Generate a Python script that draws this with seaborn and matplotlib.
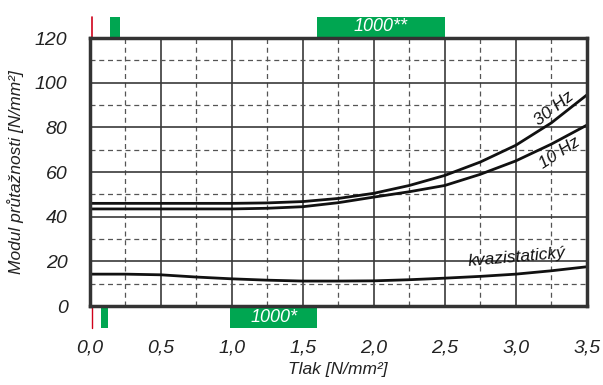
import numpy as np
import pandas as pd
import seaborn as sns
import matplotlib.pyplot as plt
from matplotlib.ticker import MultipleLocator, FixedLocator

# -------------------------
# 1. Data
# -------------------------
tlak = [0.0, 0.25, 0.5, 0.75, 1.0, 1.25, 1.5, 1.75, 2.0, 2.25, 2.5, 2.75, 3.0, 3.25, 3.5]
modul_30hz = [46, 46, 46, 46, 46, 46.2, 46.8, 48.2, 50.5, 54, 58.5, 64.5, 72, 82, 94.5]
modul_10hz = [43.5, 43.5, 43.5, 43.5, 43.5, 43.8, 44.5, 46.3, 48.8, 51.2, 54, 59, 65, 72.5, 81]
modul_kvazi = [14.3, 14.3, 14, 13, 12.2, 11.6, 11.2, 11.2, 11.3, 11.8, 12.5, 13.3, 14.3, 15.8, 17.6]

series_names = ["30 Hz", "10 Hz", "kvazistatický"]

x_ticks = [0.0, 0.5, 1.0, 1.5, 2.0, 2.5, 3.0, 3.5]
x_tick_labels = ["0,0", "0,5", "1,0", "1,5", "2,0", "2,5", "3,0", "3,5"]
y_ticks = [0, 20, 40, 60, 80, 100, 120]

# marker bands above / below the plot: (start, end, label)
top_bands = [(0.14, 0.21, ""), (1.6, 2.5, "1000**")]
bottom_bands = [(0.08, 0.13, ""), (0.99, 1.6, "1000*")]
red_marker_x = 0.012

df = pd.DataFrame({
    "Tlak": tlak * 3,
    "Modul": modul_30hz + modul_10hz + modul_kvazi,
    "Serie": [series_names[0]] * len(tlak) + [series_names[1]] * len(tlak) + [series_names[2]] * len(tlak),
})

# -------------------------
# 2. Figure
# -------------------------
sns.set_style("white")
plt.rcParams["font.family"] = ["Liberation Sans", "DejaVu Sans"]

fig = plt.figure(figsize=(6.03, 3.85), dpi=100)
ax = fig.add_axes([0.149, 0.205, 0.824, 0.696])

# grid
ax.set_xlim(0, 3.5)
ax.set_ylim(0, 120)
ax.xaxis.set_major_locator(FixedLocator(x_ticks))
ax.xaxis.set_minor_locator(MultipleLocator(0.25))
ax.yaxis.set_major_locator(FixedLocator(y_ticks))
ax.yaxis.set_minor_locator(MultipleLocator(10))
ax.grid(which="major", color="#3a3a3a", linewidth=1.2, linestyle="-")
ax.grid(which="minor", color="#555555", linewidth=0.9, linestyle=(0, (4, 3)))
ax.set_axisbelow(True)

sns.lineplot(data=df, x="Tlak", y="Modul", hue="Serie",
             palette={n: "#111111" for n in series_names},
             linewidth=2.0, legend=False, ax=ax)

for s in ax.spines.values():
    s.set_linewidth(2.5)
    s.set_color("#333333")

# tick labels
ax.set_xticklabels(x_tick_labels)
ax.tick_params(axis="x", which="both", length=0, pad=24, labelsize=14)
ax.tick_params(axis="y", which="both", length=0, pad=16, labelsize=14)
for lab in ax.get_xticklabels() + ax.get_yticklabels():
    lab.set_style("italic")
    lab.set_color("#222222")

ax.set_xlabel("Tlak [N/mm²]", fontsize=12.5, style="italic", color="#222222", labelpad=4)
ax.set_ylabel("Modul průtažnosti [N/mm²]", fontsize=12.5, style="italic", color="#222222", labelpad=8)

# curve labels
ax.text(3.27, 88.5, "30 Hz", rotation=38, ha="center", va="center", fontsize=12.5, color="#111111", style="italic")
ax.text(3.31, 68.5, "10 Hz", rotation=33, ha="center", va="center", fontsize=12.5, color="#111111", style="italic")
ax.text(3.01, 22, "kvazistatický", rotation=5, ha="center", va="center", fontsize=12.5, color="#111111", style="italic")

# marker bands outside the axes
green = "#00a651"
for x0, x1, label in top_bands:
    ax.axvspan(x0, x1, ymin=1.005, ymax=1.078, color=green, clip_on=False, lw=0)
    if label:
        ax.text((x0 + x1) / 2, 1.042, label, transform=ax.get_xaxis_transform(),
                ha="center", va="center", color="white", fontsize=13, style="italic")
for x0, x1, label in bottom_bands:
    ax.axvspan(x0, x1, ymin=-0.082, ymax=-0.005, color=green, clip_on=False, lw=0)
    if label:
        ax.text((x0 + x1) / 2, -0.042, label, transform=ax.get_xaxis_transform(),
                ha="center", va="center", color="white", fontsize=13, style="italic")
ax.axvline(red_marker_x, ymin=1.0, ymax=1.078, color="#d0021b", lw=1.2, clip_on=False)
ax.axvline(red_marker_x, ymin=-0.082, ymax=0.0, color="#d0021b", lw=1.0, clip_on=False)

plt.savefig("out.png", dpi=100)
